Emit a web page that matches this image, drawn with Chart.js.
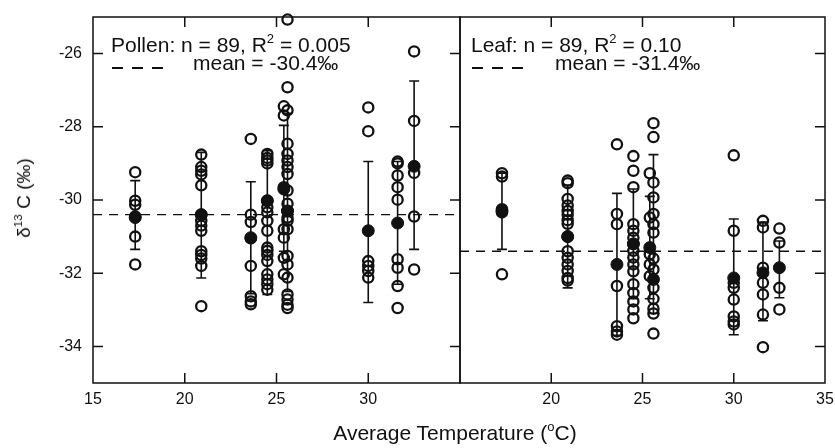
<!DOCTYPE html>
<html lang="en">
<head>
<meta charset="UTF-8" />
<title>delta13C vs average temperature</title>
<script src="https://cdn.jsdelivr.net/npm/chart.js"></script>
<style>
  body { margin: 0; background: #fff; }
  #wrap { position: relative; width: 835px; height: 448px; font-family: "Liberation Sans", Arial, sans-serif; color: #111; }
  canvas { position: absolute; top: 0; }
  .txt { position: absolute; white-space: nowrap; line-height: 20px; }
  .note { font-size: 21px; }
  .txt sup { font-size: 62%; line-height: 0; vertical-align: 0.72em; }
  .dash { position: absolute; width: 51px; height: 1.5px;
          background: repeating-linear-gradient(to right, #111 0 11px, transparent 11px 20px); }
</style>
</head>
<body>
<div id="wrap">
  <canvas id="pollenChart" width="470" height="448" style="left:0"></canvas>
  <canvas id="leafChart" width="385" height="448" style="left:450px"></canvas>

  <div class="txt note" style="left:111px;top:35px">Pollen: n = 89, R<sup>2</sup> = 0.005</div>
  <div class="dash" style="left:112px;top:67px"></div>
  <div class="txt note" style="left:193px;top:53px">mean = -30.4‰</div>

  <div class="txt note" style="left:471px;top:35px">Leaf: n = 89, R<sup>2</sup> = 0.10</div>
  <div class="dash" style="left:472px;top:67px"></div>
  <div class="txt note" style="left:555px;top:53px">mean = -31.4‰</div>

  <div class="txt" style="left:24px;top:198px;font-size:19px;transform:translate(-50%,-50%) rotate(-90deg)">δ<sup>13</sup> C (‰)</div>
  <div class="txt" style="left:455px;top:433px;font-size:21px;transform:translate(-50%,-50%)">Average Temperature (<sup>o</sup>C)</div>
</div>
<script>
  // temperature groups (sites), shared by both panels
  const temps = [17.3, 20.9, 23.6, 24.5, 25.4, 25.6, 30.0, 31.6, 32.5];
  const xTicks = [15, 20, 25, 30, 35];
  const yTicks = [-34, -32, -30, -28, -26];

  // pollen d13C, one list per temperature group
  const pollenPoints = [
    [-29.24, -30.02, -30.13, -30.45, -31.0, -31.76],
    [-28.76, -29.1, -29.2, -29.3, -29.6, -30.4, -30.57, -30.7, -30.84, -31.4, -31.5, -31.6, -31.8, -32.9],
    [-28.33, -30.4, -30.6, -31.05, -31.8, -32.63, -32.77, -32.85],
    [-28.74, -28.85, -28.92, -29.0, -30.02, -30.2, -30.34, -30.57, -30.84, -31.3, -31.39, -31.5, -31.67, -32.03, -32.17, -32.3, -32.45],
    [-27.44, -27.69, -29.65, -30.8, -31.03, -31.58, -32.03],
    [-25.07, -26.92, -27.55, -28.46, -28.74, -28.92, -29.1, -29.29, -29.74, -30.1, -30.3, -30.48, -30.57, -30.8, -31.53, -31.76, -32.12, -32.58, -32.72, -32.86, -32.95],
    [-27.47, -28.12, -31.67, -31.8, -31.94, -32.12],
    [-28.95, -29.0, -29.33, -29.65, -29.99, -31.62, -31.85, -32.35, -32.95],
    [-25.94, -27.84, -29.26, -30.45, -31.9]
  ];
  const pollenMeans = [-30.48, -30.4, -31.03, -30.02, -29.7, -30.3, -30.84, -30.63, -29.08];
  const pollenErrHigh = [-29.47, -28.7, -29.5, -28.65, -27.96, -27.63, -28.95, -28.95, -26.75];
  const pollenErrLow = [-31.35, -32.13, -32.56, -32.58, -31.4, -32.5, -32.8, -32.3, -31.35];
  const pollenOverall = -30.4;

  // leaf d13C
  const leafPoints = [
    [-29.27, -29.36, -30.25, -30.34, -32.03],
    [-29.47, -29.54, -29.97, -30.15, -30.3, -30.4, -30.55, -30.65, -31.0, -31.4, -31.58, -31.76, -31.94, -32.13, -32.2],
    [-28.48, -30.38, -30.66, -32.35, -33.45, -33.59, -33.68],
    [-28.8, -29.2, -29.65, -30.66, -30.84, -31.03, -31.2, -31.39, -31.57, -31.76, -31.95, -32.3, -32.54, -32.77, -32.99, -33.23],
    [-29.27, -30.48, -31.48, -31.76, -32.08],
    [-27.9, -28.28, -29.52, -29.93, -30.38, -30.66, -30.89, -31.6, -31.9, -32.4, -32.7, -32.97, -33.1, -33.65],
    [-28.78, -30.84, -32.26, -32.4, -32.72, -33.18, -33.32, -33.4],
    [-30.57, -30.75, -31.85, -32.26, -32.58, -33.13, -34.02],
    [-30.78, -31.16, -32.4, -32.99]
  ];
  const leafMeans = [-30.3, -31.0, -31.76, -31.2, -31.3, -32.17, -32.13, -31.99, -31.85];
  const leafErrHigh = [-29.27, -29.6, -29.82, -29.7, -29.9, -28.76, -30.52, -30.6, -31.12];
  const leafErrLow = [-31.35, -32.4, -33.7, -32.7, -32.7, -33.1, -33.68, -33.3, -32.67];
  const leafOverall = -31.4;

  const ink = "#111";
  const tickFont = { family: "'Liberation Sans', Arial, sans-serif", size: 16 };

  function makePanel(id, points, means, hi, lo, overall, isLeft) {
    const openData = [];
    temps.forEach((t, i) => points[i].forEach((v) => openData.push({ x: t, y: v })));

    const errorBars = {
      id: "errorBars" + id,
      beforeDatasetsDraw(chart) {
        const { ctx, scales } = chart;
        ctx.save();
        ctx.strokeStyle = ink;
        ctx.lineWidth = 1.6;
        temps.forEach((t, i) => {
          const px = scales.x.getPixelForValue(t);
          const top = scales.y.getPixelForValue(hi[i]);
          const bot = scales.y.getPixelForValue(lo[i]);
          ctx.beginPath();
          ctx.moveTo(px, top); ctx.lineTo(px, bot);
          ctx.moveTo(px - 5, top); ctx.lineTo(px + 5, top);
          ctx.moveTo(px - 5, bot); ctx.lineTo(px + 5, bot);
          ctx.stroke();
        });
        ctx.restore();
      },
    };

    // box around the panel with inward ticks
    const frame = {
      id: "frame" + id,
      afterDraw(chart) {
        const { ctx, chartArea: a, scales } = chart;
        const len = 10;
        ctx.save();
        ctx.strokeStyle = ink;
        ctx.lineWidth = 1.5;
        ctx.strokeRect(a.left, a.top, a.right - a.left, a.bottom - a.top);
        ctx.beginPath();
        xTicks.slice(1, -1).forEach((v) => {
          const px = scales.x.getPixelForValue(v);
          ctx.moveTo(px, a.bottom); ctx.lineTo(px, a.bottom - len);
          ctx.moveTo(px, a.top); ctx.lineTo(px, a.top + len);
        });
        yTicks.forEach((v) => {
          const py = scales.y.getPixelForValue(v);
          if (isLeft) { ctx.moveTo(a.left, py); ctx.lineTo(a.left + len, py); }
          ctx.moveTo(a.right, py); ctx.lineTo(a.right - len, py);
        });
        ctx.stroke();
        ctx.restore();
      },
    };

    return new Chart(document.getElementById(id), {
      type: "scatter",
      data: {
        datasets: [
          {
            data: openData,
            pointStyle: "circle",
            pointRadius: 5.1,
            borderWidth: 2.3,
            borderColor: ink,
            backgroundColor: "rgba(0,0,0,0)",
            clip: false,
          },
          {
            data: temps.map((t, i) => ({ x: t, y: means[i] })),
            pointRadius: 6,
            borderWidth: 1,
            borderColor: ink,
            backgroundColor: ink,
            clip: false,
          },
          {
            type: "line",
            data: [{ x: 15, y: overall }, { x: 35, y: overall }],
            borderColor: ink,
            borderWidth: 1.3,
            borderDash: [9, 7],
            pointRadius: 0,
          },
        ],
      },
      options: {
        responsive: false,
        animation: false,
        layout: { padding: { top: 17, bottom: 0, left: isLeft ? 0 : 10, right: 10 } },
        plugins: { legend: { display: false }, tooltip: { enabled: false } },
        scales: {
          x: {
            type: "linear",
            min: 15,
            max: 35,
            afterBuildTicks: (s) => { s.ticks = xTicks.map((v) => ({ value: v })); },
            afterFit: (s) => { s.height = 65; s.paddingLeft = 0; s.paddingRight = 0; },
            grid: { display: false, drawTicks: false },
            border: { display: false },
            ticks: {
              color: ink,
              font: tickFont,
              padding: 7,
              maxRotation: 0,
              callback: (v) => ((isLeft && v === 35) || (!isLeft && v === 15) ? "" : v),
            },
          },
          y: {
            min: -35,
            max: -25,
            display: isLeft,
            afterBuildTicks: (s) => { s.ticks = yTicks.map((v) => ({ value: v })); },
            afterFit: (s) => { if (isLeft) s.width = 93; s.paddingTop = 0; s.paddingBottom = 0; },
            grid: { display: false, drawTicks: false },
            border: { display: false },
            ticks: { color: ink, font: tickFont, padding: 11 },
          },
        },
      },
      plugins: [errorBars, frame],
    });
  }

  makePanel("pollenChart", pollenPoints, pollenMeans, pollenErrHigh, pollenErrLow, pollenOverall, true);
  makePanel("leafChart", leafPoints, leafMeans, leafErrHigh, leafErrLow, leafOverall, false);
</script>
</body>
</html>
